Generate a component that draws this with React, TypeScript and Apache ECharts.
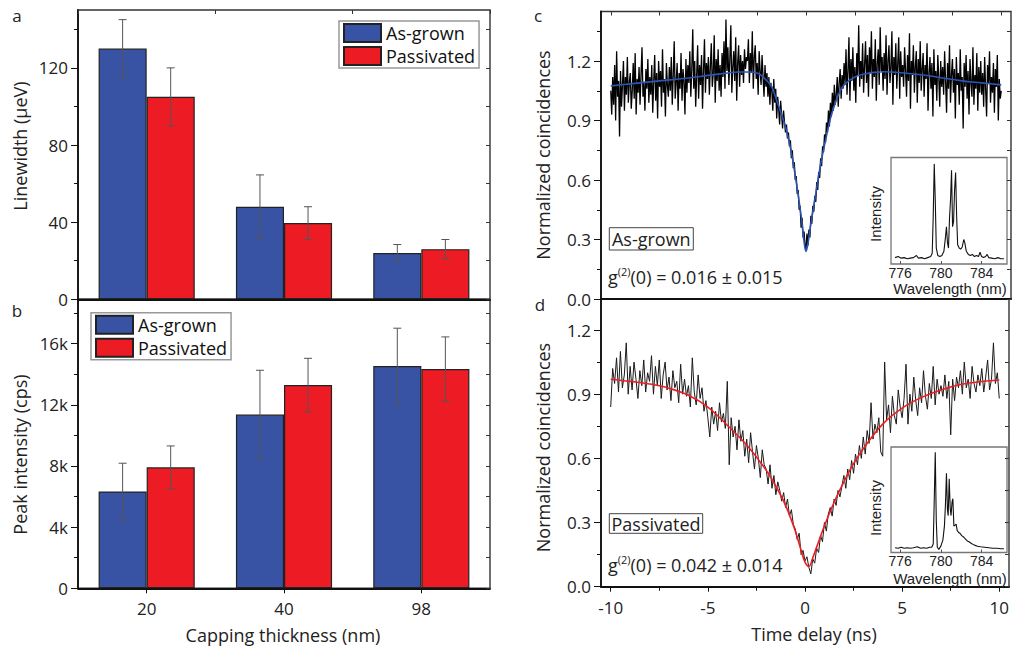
import React, { useEffect, useRef } from 'react';
import * as echarts from 'echarts';

// ---------- Panels a & b : bar data ----------
const CATEGORIES = ['20', '40', '98'];
const LW_ASGROWN = [130, 48, 24];
const LW_ASGROWN_ERR = [15, 16.5, 4.4];
const LW_PASSIVATED = [105, 39.5, 26];
const LW_PASSIVATED_ERR = [15, 8.5, 5];
const PI_ASGROWN = [6330, 11360, 14530];
const PI_ASGROWN_ERR = [1850, 2900, 2480];
const PI_PASSIVATED = [7910, 13290, 14340];
const PI_PASSIVATED_ERR = [1400, 1750, 2100];

const LW_TICKS = [0, 40, 80, 120];
const LW_MINOR = [20, 60, 100, 140];
const PI_TICKS = [0, 4000, 8000, 12000, 16000];
const PI_MINOR = [2000, 6000, 10000, 14000, 18000];
const G2_TICKS = [0, 0.3, 0.6, 0.9, 1.2];
const G2_MINOR_C = [0.15, 0.45, 0.75, 1.05, 1.35];
const G2_MINOR_D = [0.15, 0.45, 0.75, 1.05];
const TIME_TICKS = [-10, -5, 0, 5, 10];
const TIME_MINOR = [-7.5, -2.5, 2.5, 7.5];
const WL_TICKS = [776, 780, 784];

// ---------- Panel c : As-grown g2 trace (sampled from -10 to 10 ns) ----------
const TIME_START = -10;
const TIME_END = 10;
const NOISE_C = [
  1.05, 0.93, 1.12, 0.98, 1.18, 0.90, 1.25, 1.02, 1.10, 0.82, 1.15, 0.97, 1.08, 1.20, 0.95, 1.12, 1.03, 1.22, 0.99, 1.09,
  1.14, 0.96, 1.05, 1.19, 1.01, 1.24, 0.93, 1.11, 1.04, 1.17, 0.98, 1.13, 1.27, 1.02, 1.09, 0.95, 1.16, 1.06, 1.21, 0.99,
  1.12, 1.03, 1.18, 0.94, 1.10, 1.23, 1.00, 1.14, 0.91, 1.20, 1.07, 1.15, 0.97, 1.26, 1.04, 1.11, 0.92, 1.19, 1.08, 1.02,
  1.17, 1.05, 1.22, 0.98, 1.13, 1.30, 1.01, 1.09, 1.19, 0.95, 1.14, 1.06, 1.24, 1.00, 1.16, 1.10, 0.93, 1.21, 1.04, 1.18,
  1.09, 1.25, 1.02, 1.16, 1.36, 1.06, 1.20, 0.97, 1.13, 1.28, 1.01, 1.18, 1.08, 1.23, 0.96, 1.15, 1.31, 1.04, 1.19, 1.11,
  1.22, 1.03, 1.17, 1.29, 1.07, 1.14, 1.33, 0.99, 1.21, 1.10, 1.26, 1.05, 1.18, 1.02, 1.24, 1.12, 1.30, 1.06, 1.41, 1.15,
  1.27, 1.08, 1.21, 1.38, 1.04, 1.17, 1.25, 1.10, 1.32, 1.00, 1.19, 1.28, 1.07, 1.23, 1.13, 1.20, 1.09, 1.26, 1.16, 1.22,
  1.20, 1.31, 1.09, 1.24, 1.14, 1.35, 1.06, 1.22, 1.28, 1.11, 1.19, 1.03, 1.25, 1.15, 1.08, 1.23, 1.12, 1.02, 1.18, 1.07,
  1.14, 1.02, 1.12, 0.98, 1.09, 1.05, 0.95, 1.11, 0.99, 1.06, 0.91, 1.02, 0.96, 0.88, 1.00, 0.93, 0.86, 0.95, 0.89, 0.84,
  0.88, 0.81, 0.84, 0.77, 0.80, 0.71, 0.75, 0.66, 0.69, 0.60, 0.62, 0.53, 0.55, 0.45, 0.47, 0.36, 0.41, 0.31, 0.34, 0.27,
  0.25, 0.33, 0.27, 0.35, 0.31, 0.42, 0.38, 0.47, 0.44, 0.52, 0.49, 0.59, 0.55, 0.64, 0.61, 0.71, 0.67, 0.77, 0.74, 0.83,
  0.79, 0.89, 0.84, 0.95, 0.87, 0.99, 0.92, 1.04, 0.95, 1.08, 0.98, 1.03, 1.12, 0.97, 1.09, 1.16, 1.01, 1.13, 1.06, 1.19,
  1.08, 1.26, 1.03, 1.15, 1.32, 1.00, 1.21, 1.10, 1.27, 1.05, 1.17, 0.99, 1.24, 1.13, 1.38, 1.07, 1.20, 1.11, 1.29, 1.04,
  1.18, 1.30, 1.09, 1.23, 1.02, 1.27, 1.14, 1.35, 1.06, 1.21, 1.12, 1.31, 1.00, 1.19, 1.26, 1.08, 1.37, 1.15, 1.22, 1.05,
  1.24, 1.11, 1.33, 1.03, 1.20, 1.28, 1.09, 1.17, 1.35, 0.98, 1.22, 1.13, 1.29, 1.06, 1.19, 1.32, 1.01, 1.25, 1.12, 1.18,
  1.07, 1.27, 1.15, 1.02, 1.23, 1.10, 1.34, 0.96, 1.20, 1.13, 1.28, 1.04, 1.17, 1.25, 0.99, 1.21, 1.09, 1.30, 1.05, 1.16,
  1.24, 1.02, 1.18, 1.11, 1.29, 0.95, 1.14, 1.22, 1.06, 1.19, 0.92, 1.26, 1.08, 1.15, 1.00, 1.23, 1.12, 0.97, 1.20, 1.07,
  1.17, 1.03, 1.25, 1.10, 0.94, 1.19, 1.06, 1.28, 0.99, 1.13, 1.21, 1.04, 1.16, 0.91, 1.22, 1.08, 1.14, 0.98, 1.26, 1.05,
  1.12, 0.86, 1.19, 1.07, 1.23, 1.01, 1.15, 0.93, 1.21, 1.09, 1.02, 1.27, 0.98, 1.13, 1.06, 1.24, 0.95, 1.17, 1.04, 1.20,
  1.03, 1.14, 0.97, 1.22, 1.06, 0.92, 1.18, 1.09, 1.25, 0.99, 1.12, 1.04, 1.19, 0.94, 1.16, 1.07, 1.23, 0.90, 1.11, 1.01,
  1.05,
];
const FIT_C_T = [-10, -9, -8, -7, -6, -5, -4, -3.5, -3, -2.5, -2, -1.75, -1.5, -1.25, -1, -0.75, -0.5, -0.25, -0.1, 0, 0.1, 0.25, 0.5, 0.75, 1, 1.25, 1.5, 1.75, 2, 2.5, 3, 3.5, 4, 5, 6, 7, 8, 9, 10];
const FIT_C_V = [1.075, 1.085, 1.095, 1.105, 1.115, 1.128, 1.14, 1.145, 1.145, 1.14, 1.10, 1.07, 1.00, 0.93, 0.85, 0.74, 0.59, 0.42, 0.29, 0.24, 0.28, 0.38, 0.53, 0.68, 0.80, 0.91, 0.99, 1.05, 1.085, 1.12, 1.135, 1.143, 1.146, 1.14, 1.13, 1.115, 1.10, 1.09, 1.08];

// ---------- Panel d : Passivated g2 trace ----------
const NOISE_D = [
  0.84, 1.02, 0.95, 1.07, 0.91, 1.10, 0.93, 0.99, 1.14, 0.90,
  1.03, 0.92, 1.05, 0.97, 0.88, 1.01, 0.94, 1.06, 0.91, 1.00,
  0.96, 1.08, 0.90, 1.03, 0.94, 1.06, 0.88, 0.99, 1.05, 0.92,
  0.98, 0.87, 1.01, 0.93, 0.96, 0.86, 1.04, 0.90, 0.97, 0.89,
  0.94, 0.84, 1.07, 0.91, 0.85, 0.99, 0.88, 0.93, 0.82, 0.87,
  0.79, 0.70, 0.84, 0.76, 0.82, 0.73, 0.86, 0.77, 0.81, 0.74,
  0.96, 0.57, 0.79, 0.70, 0.75, 0.64, 0.78, 0.68, 0.73, 0.61,
  0.69, 0.58, 0.72, 0.63, 0.55, 0.66, 0.60, 0.51, 0.64, 0.57,
  0.55, 0.48, 0.57, 0.46, 0.52, 0.43, 0.49, 0.45, 0.40, 0.44,
  0.37, 0.41, 0.33, 0.36, 0.29, 0.27, 0.22, 0.25, 0.15, 0.17,
  0.12, 0.14, 0.09, 0.06, 0.13, 0.11, 0.18, 0.16, 0.24, 0.21,
  0.30, 0.26, 0.34, 0.37, 0.33, 0.41, 0.38, 0.45, 0.42, 0.47,
  0.52, 0.46, 0.55, 0.50, 0.59, 0.53, 0.62, 0.57, 0.66, 0.60,
  0.70, 0.62, 0.73, 0.67, 0.86, 0.69, 0.76, 0.72, 0.79, 0.63,
  0.61, 1.05, 0.78, 0.85, 0.72, 0.89, 0.80, 0.76, 0.92, 0.84,
  0.79, 0.88, 1.04, 0.76, 0.90, 0.82, 0.98, 0.87, 0.80, 0.93,
  0.86, 1.01, 0.89, 0.83, 0.95, 0.88, 1.03, 0.85, 0.97, 0.90,
  0.94, 0.89, 0.99, 0.88, 0.96, 0.71, 0.97, 0.87, 0.98, 0.93,
  1.01, 0.90, 1.05, 0.93, 0.97, 0.88, 1.03, 0.95, 0.91, 0.99,
  0.94, 1.02, 0.91, 0.98, 1.06, 0.92, 0.97, 1.14, 0.95, 1.00,
  0.88,
];
const FIT_D_T = [-10, -9, -8, -7, -6, -5, -4, -3, -2, -1.5, -1, -0.5, -0.2, 0, 0.2, 0.4, 0.6, 1, 1.5, 2, 2.5, 3, 4, 5, 6, 7, 8, 9, 10];
const FIT_D_V = [0.970, 0.960, 0.948, 0.928, 0.895, 0.84, 0.755, 0.662, 0.545, 0.47, 0.38, 0.26, 0.17, 0.115, 0.095, 0.135, 0.185, 0.285, 0.395, 0.49, 0.575, 0.645, 0.76, 0.835, 0.885, 0.92, 0.945, 0.958, 0.966];

// ---------- Insets : PL spectra [wavelength nm, normalized intensity] ----------
const SPEC_C = [
  [775.5, 0.06], [775.8, 0.07], [776.1, 0.055], [776.4, 0.06], [776.7, 0.05], [777.0, 0.055], [777.3, 0.06], [777.6, 0.08],
  [777.8, 0.055], [778.1, 0.06], [778.4, 0.05], [778.7, 0.06], [779.0, 0.07], [779.15, 0.10], [779.25, 0.45], [779.35, 0.94],
  [779.45, 0.60], [779.55, 0.15], [779.7, 0.08], [779.9, 0.07], [780.1, 0.08], [780.3, 0.12], [780.45, 0.25], [780.55, 0.35],
  [780.65, 0.20], [780.75, 0.15], [780.85, 0.43], [780.95, 0.60], [781.05, 0.88], [781.15, 0.35], [781.25, 0.40], [781.35, 0.70],
  [781.45, 0.86], [781.55, 0.45], [781.65, 0.18], [781.8, 0.15], [781.95, 0.14], [782.1, 0.16], [782.25, 0.23], [782.35, 0.20],
  [782.5, 0.12], [782.7, 0.09], [782.9, 0.08], [783.1, 0.09], [783.3, 0.07], [783.5, 0.08], [783.7, 0.07], [783.85, 0.11],
  [784.0, 0.07], [784.2, 0.06], [784.4, 0.07], [784.55, 0.09], [784.7, 0.06], [785.0, 0.055], [785.3, 0.05], [785.6, 0.06],
  [785.9, 0.05], [786.2, 0.05],
];
const SPEC_D = [
  [775.5, 0.045], [775.8, 0.04], [776.1, 0.05], [776.4, 0.04], [776.7, 0.045], [777.0, 0.04], [777.3, 0.045], [777.7, 0.055],
  [778.0, 0.04], [778.3, 0.045], [778.6, 0.04], [778.9, 0.05], [779.1, 0.05], [779.25, 0.08], [779.35, 0.50], [779.45, 0.95],
  [779.55, 0.30], [779.65, 0.05], [779.8, 0.03], [780.0, 0.06], [780.2, 0.12], [780.35, 0.25], [780.45, 0.45], [780.55, 0.75],
  [780.65, 0.40], [780.72, 0.35], [780.82, 0.70], [780.92, 0.42], [781.0, 0.35], [781.1, 0.48], [781.18, 0.51], [781.28, 0.25],
  [781.4, 0.26], [781.5, 0.27], [781.6, 0.21], [781.75, 0.19], [781.9, 0.18], [782.05, 0.16], [782.2, 0.15], [782.4, 0.13],
  [782.6, 0.11], [782.8, 0.10], [783.0, 0.085], [783.3, 0.07], [783.6, 0.06], [783.9, 0.055], [784.3, 0.05], [784.7, 0.045],
  [785.1, 0.04], [785.5, 0.04], [785.9, 0.035], [786.2, 0.035],
];

const FONT = "'Open Sans', 'Noto Sans', sans-serif";
const ARIAL = "'Liberation Sans', Arial, sans-serif";
const BLUE = '#3953a4';
const RED = '#ed1c24';
const TXT = '#222';

function onGrid(values: number[]) {
  const n = values.length;
  return values.map((v, i) => [TIME_START + (i * (TIME_END - TIME_START)) / (n - 1), v]);
}
function zipXY(xs: number[], ys: number[]) {
  return xs.map((x, i) => [x, ys[i]]);
}
function errData(vals: number[], errs: number[]) {
  return vals.map((v, i) => [i, v, errs[i]]);
}

function errRender(sign: number) {
  return (params: any, api: any) => {
    const cat = api.value(0);
    const val = api.value(1);
    const err = api.value(2);
    const c = api.coord([cat, val]);
    const band = api.size([1, 0])[0];
    const x = c[0] + sign * band * 0.175;
    const top = api.coord([cat, val + err])[1];
    const bot = api.coord([cat, val - err])[1];
    const cap = 4;
    const st = { stroke: '#555', lineWidth: 1 };
    return {
      type: 'group',
      children: [
        { type: 'line', shape: { x1: x, y1: top, x2: x, y2: bot }, style: st },
        { type: 'line', shape: { x1: x - cap, y1: top, x2: x + cap, y2: top }, style: st },
        { type: 'line', shape: { x1: x - cap, y1: bot, x2: x + cap, y2: bot }, style: st },
      ],
    };
  };
}

const tickLabel = { color: TXT, fontSize: 17, fontFamily: FONT };

function tickOnlyY(gridIndex: number, position: string, min: number, max: number, values: number[], length: number, inside: boolean, color = '#111') {
  return {
    type: 'value', gridIndex, position, min, max,
    axisLine: { show: false, onZero: false },
    axisTick: { show: true, inside, length, customValues: values, lineStyle: { color, width: 1 } },
    axisLabel: { show: false },
    splitLine: { show: false },
  };
}
function tickOnlyX(gridIndex: number, position: string, min: number, max: number, values: number[], length: number, inside: boolean, color = '#111') {
  return {
    type: 'value', gridIndex, position, min, max,
    axisLine: { show: false, onZero: false },
    axisTick: { show: true, inside, length, customValues: values, lineStyle: { color, width: 1 } },
    axisLabel: { show: false },
    splitLine: { show: false },
  };
}
function mainY(gridIndex: number, min: number, max: number, ticks: number[], formatter: (v: number) => string) {
  return {
    type: 'value', gridIndex, position: 'left', min, max,
    axisLine: { show: true, onZero: false, lineStyle: { color: '#111', width: 1.8 } },
    axisTick: { show: true, length: 7, customValues: ticks, lineStyle: { color: '#111', width: 1 } },
    axisLabel: { ...tickLabel, margin: 10, customValues: ticks, formatter },
    splitLine: { show: false },
  };
}

function buildOption() {
  const LW_ALL = [...LW_TICKS, ...LW_MINOR];
  const PI_ALL = [...PI_TICKS, ...PI_MINOR];
  const G2C_ALL = [...G2_TICKS, ...G2_MINOR_C];
  const G2D_ALL = [...G2_TICKS, ...G2_MINOR_D];
  const T_ALL = [...TIME_TICKS, ...TIME_MINOR];
  const frame = { show: true, borderColor: '#333', borderWidth: 1.4, backgroundColor: 'transparent' };
  const inset = { show: true, borderColor: '#777', borderWidth: 1.3, backgroundColor: '#fff' };
  const WL_MIN = 775.1;
  const WL_MAX = 786.5;

  const insetX = (gridIndex: number) => ({
    type: 'value', gridIndex, min: WL_MIN, max: WL_MAX,
    axisLine: { show: false, onZero: false },
    axisTick: { show: true, inside: true, length: 3, customValues: WL_TICKS, lineStyle: { color: '#555' } },
    axisLabel: { color: TXT, fontSize: 14, lineHeight: 13, fontFamily: ARIAL, margin: 2, customValues: WL_TICKS },
    splitLine: { show: false },
  });
  const insetY = (gridIndex: number) => ({
    type: 'value', gridIndex, min: 0, max: 1,
    axisLine: { show: false, onZero: false }, axisTick: { show: false }, axisLabel: { show: false }, splitLine: { show: false },
  });

  const g2Rich = {
    n: { fontSize: 18, fontFamily: FONT, fill: TXT, lineHeight: 22 },
    s: { fontSize: 11, fontFamily: FONT, fill: TXT, lineHeight: 12, verticalAlign: 'top' },
  };

  return {
    animation: false,
    backgroundColor: '#fff',
    grid: [
      { left: 78, top: 10, width: 412, height: 289.3, ...frame },
      { left: 78, top: 299.3, width: 412, height: 289, ...frame },
      { left: 601, top: 11.5, width: 410, height: 287.5, ...frame },
      { left: 601, top: 299, width: 410, height: 287.7, ...frame },
      { left: 891, top: 157.5, width: 116, height: 106.5, ...inset },
      { left: 891, top: 447, width: 116, height: 105.5, ...inset },
    ],
    legend: [
      {
        data: ['As-grown', 'Passivated'], orient: 'vertical', left: 339, top: 21,
        itemWidth: 37, itemHeight: 18, itemGap: 3, padding: [2, 4, 2, 4],
        borderColor: '#999', borderWidth: 1.5, icon: 'rect', selectedMode: false,
        textStyle: { fontSize: 18, fontFamily: FONT, color: '#111' },
      },
      {
        data: ['As-grown', 'Passivated'], orient: 'vertical', left: 91, top: 312.7,
        itemWidth: 37, itemHeight: 18, itemGap: 3, padding: [2, 4, 2, 4],
        borderColor: '#999', borderWidth: 1.5, icon: 'rect', selectedMode: false,
        textStyle: { fontSize: 18, fontFamily: FONT, color: '#111' },
      },
    ],
    xAxis: [
      // 0: a bottom
      { type: 'category', gridIndex: 0, data: CATEGORIES, axisLine: { onZero: false, lineStyle: { color: '#111', width: 1.8 } }, axisTick: { show: false }, axisLabel: { show: false }, splitLine: { show: false } },
      // 1: a top ticks
      { type: 'category', gridIndex: 0, position: 'top', data: CATEGORIES, axisLine: { show: false, onZero: false }, axisTick: { show: true, inside: true, length: 4, lineStyle: { color: '#333' } }, axisLabel: { show: false } },
      // 2: b bottom
      { type: 'category', gridIndex: 1, data: CATEGORIES, axisLine: { onZero: false, lineStyle: { color: '#111', width: 1.8 } }, axisTick: { show: true, alignWithLabel: true, length: 5, lineStyle: { color: '#111' } }, axisLabel: { ...tickLabel, margin: 12 } },
      // 3: c bottom
      { type: 'value', gridIndex: 2, min: -10.5, max: 10.5, axisLine: { onZero: false, lineStyle: { color: '#111', width: 1.8 } }, axisTick: { show: false }, axisLabel: { show: false }, splitLine: { show: false } },
      // 4: c top ticks
      tickOnlyX(2, 'top', -10.5, 10.5, T_ALL, 4, true, '#333'),
      // 5: d bottom
      { type: 'value', gridIndex: 3, min: -10.5, max: 10.5, axisLine: { onZero: false, lineStyle: { color: '#111', width: 1.8 } }, axisTick: { show: true, length: 5, customValues: TIME_TICKS, lineStyle: { color: '#111' } }, axisLabel: { ...tickLabel, margin: 12, customValues: TIME_TICKS, formatter: (v: number) => String(v) }, splitLine: { show: false } },
      // 6: d bottom minor
      tickOnlyX(3, 'bottom', -10.5, 10.5, TIME_MINOR, 4, false),
      // 7, 8: insets
      insetX(4),
      insetX(5),
    ],
    yAxis: [
      // 0..2 a
      mainY(0, 0, 150, LW_TICKS, (v: number) => String(v)),
      tickOnlyY(0, 'left', 0, 150, LW_MINOR, 4, false),
      tickOnlyY(0, 'right', 0, 150, LW_ALL, 4, true, '#333'),
      // 3..5 b
      mainY(1, 0, 18900, PI_TICKS, (v: number) => (v === 0 ? '0' : v / 1000 + 'k')),
      tickOnlyY(1, 'left', 0, 18900, PI_MINOR, 4, false),
      tickOnlyY(1, 'right', 0, 18900, PI_ALL, 4, true, '#333'),
      // 6..8 c
      mainY(2, 0, 1.45, G2_TICKS, (v: number) => v.toFixed(1)),
      tickOnlyY(2, 'left', 0, 1.45, G2_MINOR_C, 4, false),
      tickOnlyY(2, 'right', 0, 1.45, G2C_ALL, 4, true, '#333'),
      // 9..11 d
      mainY(3, 0, 1.345, G2_TICKS, (v: number) => v.toFixed(1)),
      tickOnlyY(3, 'left', 0, 1.345, G2_MINOR_D, 4, false),
      tickOnlyY(3, 'right', 0, 1.345, G2D_ALL, 4, true, '#333'),
      // 12, 13 insets
      insetY(4),
      insetY(5),
    ],
    series: [
      { name: 'As-grown', type: 'bar', xAxisIndex: 0, yAxisIndex: 0, data: LW_ASGROWN, barWidth: '35%', barGap: '0%', itemStyle: { color: BLUE, borderColor: '#222', borderWidth: 1.2 } },
      { name: 'Passivated', type: 'bar', xAxisIndex: 0, yAxisIndex: 0, data: LW_PASSIVATED, barWidth: '35%', barGap: '0%', itemStyle: { color: RED, borderColor: '#222', borderWidth: 1.2 } },
      { name: 'As-grown', type: 'bar', xAxisIndex: 2, yAxisIndex: 3, data: PI_ASGROWN, barWidth: '35%', barGap: '0%', itemStyle: { color: BLUE, borderColor: '#222', borderWidth: 1.2 } },
      { name: 'Passivated', type: 'bar', xAxisIndex: 2, yAxisIndex: 3, data: PI_PASSIVATED, barWidth: '35%', barGap: '0%', itemStyle: { color: RED, borderColor: '#222', borderWidth: 1.2 } },
      { type: 'custom', xAxisIndex: 0, yAxisIndex: 0, renderItem: errRender(-1), data: errData(LW_ASGROWN, LW_ASGROWN_ERR), encode: { x: 0, y: 1 }, z: 5 },
      { type: 'custom', xAxisIndex: 0, yAxisIndex: 0, renderItem: errRender(1), data: errData(LW_PASSIVATED, LW_PASSIVATED_ERR), encode: { x: 0, y: 1 }, z: 5 },
      { type: 'custom', xAxisIndex: 2, yAxisIndex: 3, renderItem: errRender(-1), data: errData(PI_ASGROWN, PI_ASGROWN_ERR), encode: { x: 0, y: 1 }, z: 5 },
      { type: 'custom', xAxisIndex: 2, yAxisIndex: 3, renderItem: errRender(1), data: errData(PI_PASSIVATED, PI_PASSIVATED_ERR), encode: { x: 0, y: 1 }, z: 5 },
      { name: 'g2 as-grown', type: 'line', xAxisIndex: 3, yAxisIndex: 6, data: onGrid(NOISE_C), showSymbol: false, symbol: 'none', lineStyle: { color: '#000', width: 1.3 }, z: 2 },
      { name: 'fit as-grown', type: 'line', xAxisIndex: 3, yAxisIndex: 6, data: zipXY(FIT_C_T, FIT_C_V), smooth: 0.4, symbol: 'none', lineStyle: { color: '#2b55b5', width: 1.6 }, z: 3 },
      { name: 'g2 passivated', type: 'line', xAxisIndex: 5, yAxisIndex: 9, data: onGrid(NOISE_D), symbol: 'none', lineStyle: { color: '#1a1a1a', width: 1 }, z: 2 },
      { name: 'fit passivated', type: 'line', xAxisIndex: 5, yAxisIndex: 9, data: zipXY(FIT_D_T, FIT_D_V), smooth: 0.4, symbol: 'none', lineStyle: { color: '#ee1d23', width: 1.6 }, z: 3 },
      { name: 'spectrum as-grown', type: 'line', xAxisIndex: 7, yAxisIndex: 12, data: SPEC_C, symbol: 'none', lineStyle: { color: '#111', width: 1.1 }, z: 6 },
      { name: 'spectrum passivated', type: 'line', xAxisIndex: 8, yAxisIndex: 13, data: SPEC_D, symbol: 'none', lineStyle: { color: '#111', width: 1.1 }, z: 6 },
    ],
    graphic: [
      { type: 'text', x: 17, y: 15, style: { text: 'a', fontSize: 17, fontFamily: FONT, fill: TXT, align: 'center', verticalAlign: 'middle' } },
      { type: 'text', x: 17, y: 310, style: { text: 'b', fontSize: 17, fontFamily: FONT, fill: TXT, align: 'center', verticalAlign: 'middle' } },
      { type: 'text', x: 538, y: 15, style: { text: 'c', fontSize: 17, fontFamily: FONT, fill: TXT, align: 'center', verticalAlign: 'middle' } },
      { type: 'text', x: 540, y: 304, style: { text: 'd', fontSize: 17, fontFamily: FONT, fill: TXT, align: 'center', verticalAlign: 'middle' } },
      { type: 'text', x: 20, y: 146, rotation: Math.PI / 2, style: { text: 'Linewidth (μeV)', fontSize: 18, fontFamily: FONT, fill: TXT, align: 'center', verticalAlign: 'middle' } },
      { type: 'text', x: 20, y: 454.5, rotation: Math.PI / 2, style: { text: 'Peak intensity (cps)', fontSize: 18, fontFamily: FONT, fill: TXT, align: 'center', verticalAlign: 'middle' } },
      { type: 'text', x: 543, y: 155, rotation: Math.PI / 2, style: { text: 'Normalized coincidences', fontSize: 18, fontFamily: FONT, fill: TXT, align: 'center', verticalAlign: 'middle' } },
      { type: 'text', x: 543, y: 447.5, rotation: Math.PI / 2, style: { text: 'Normalized coincidences', fontSize: 18, fontFamily: FONT, fill: TXT, align: 'center', verticalAlign: 'middle' } },
      { type: 'text', x: 283, y: 635, style: { text: 'Capping thickness (nm)', fontSize: 18, fontFamily: FONT, fill: TXT, align: 'center', verticalAlign: 'middle' } },
      { type: 'text', x: 814, y: 634, style: { text: 'Time delay (ns)', fontSize: 18, fontFamily: FONT, fill: TXT, align: 'center', verticalAlign: 'middle' } },
      { type: 'text', x: 950, y: 288.5, z: 10, style: { text: 'Wavelength (nm)', fontSize: 15, lineHeight: 14, fontFamily: ARIAL, fill: TXT, align: 'center', verticalAlign: 'middle' } },
      { type: 'text', x: 950, y: 578, z: 10, style: { text: 'Wavelength (nm)', fontSize: 15, lineHeight: 14, fontFamily: ARIAL, fill: TXT, align: 'center', verticalAlign: 'middle' } },
      { type: 'text', x: 875, y: 214, rotation: Math.PI / 2, style: { text: 'Intensity', fontSize: 15, fontFamily: ARIAL, fill: TXT, align: 'center', verticalAlign: 'middle' } },
      { type: 'text', x: 875, y: 508, rotation: Math.PI / 2, style: { text: 'Intensity', fontSize: 15, fontFamily: ARIAL, fill: TXT, align: 'center', verticalAlign: 'middle' } },
      { type: 'rect', shape: { x: 609.3, y: 227.7, width: 84, height: 22.3 }, style: { fill: '#fff', stroke: '#444', lineWidth: 1 } },
      { type: 'text', x: 651.3, y: 239, style: { text: 'As-grown', fontSize: 18, fontFamily: FONT, fill: TXT, align: 'center', verticalAlign: 'middle' } },
      { type: 'rect', shape: { x: 609.3, y: 513.7, width: 93.4, height: 19.6 }, style: { fill: '#fff', stroke: '#444', lineWidth: 1 } },
      { type: 'text', x: 656, y: 523.5, style: { text: 'Passivated', fontSize: 18, fontFamily: FONT, fill: TXT, align: 'center', verticalAlign: 'middle' } },
      { type: 'text', x: 608, y: 277, style: { text: '{n|g}{s|(2)}{n|(0) = 0.016 ± 0.015}', rich: g2Rich, align: 'left', verticalAlign: 'middle' } },
      { type: 'text', x: 608, y: 565, style: { text: '{n|g}{s|(2)}{n|(0) = 0.042 ± 0.014}', rich: g2Rich, align: 'left', verticalAlign: 'middle' } },
    ],
  };
}

export default function App() {
  const ref = useRef<HTMLDivElement>(null);
  useEffect(() => {
    const chart = echarts.init(ref.current as HTMLDivElement, null, { renderer: 'svg' });
    chart.setOption(buildOption() as any);
    return () => chart.dispose();
  }, []);
  return (
    <div
      ref={ref}
      style={{ position: 'fixed', left: 0, top: 0, width: 1012, height: 647, background: '#fff' }}
    />
  );
}
